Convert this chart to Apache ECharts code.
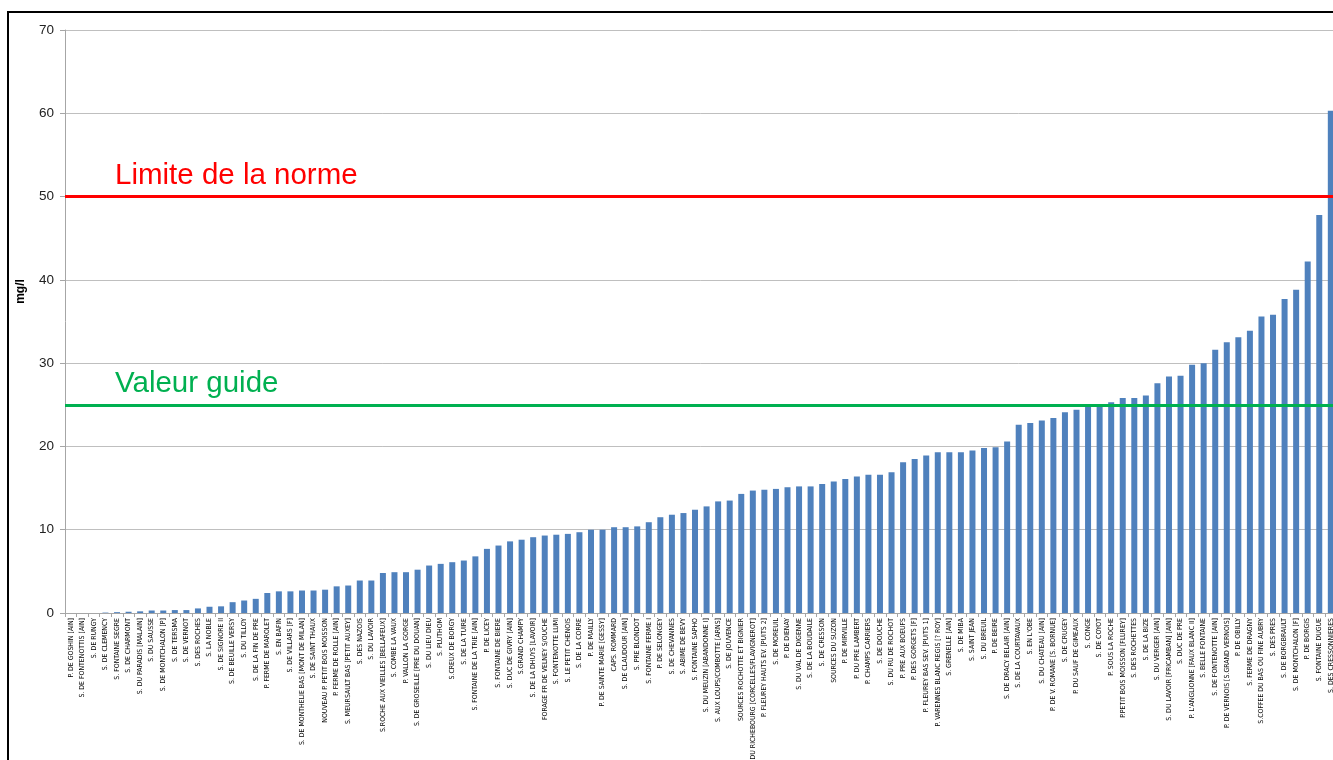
<!DOCTYPE html>
<html>
<head>
<meta charset="utf-8">
<script src="https://cdn.jsdelivr.net/npm/echarts@6/dist/echarts.min.js"></script>
<style>
html,body{margin:0;padding:0;background:#fff;overflow:hidden;width:1333px;height:760px;}
#frame{position:absolute;left:7px;top:11px;width:2000px;height:2000px;border-left:2px solid #000;border-top:2px solid #000;}
#chart{position:absolute;left:0;top:0;width:1340px;height:760px;}
</style>
</head>
<body>
<div id="chart"></div>
<div id="frame"></div>
<script>
const categories = [
"P. DE GOSHIN [AIN]","S. DE FONTENOTTIS [AIN]","S. DE RUNGY","S. DE CLEMENCY","S. FONTAINE SEGRE",
"S. DE CHARMONT","S. DU PARADIS [MALAIN]","S. DU SAUSSE","S. DE MONTCHALON [P]","S. DE TERSMA",
"S. DE VERNOT","S. DES ROCHES","S. LA NOBLE","S. DE SIGNORE II","S. DE BEUILLE VERSY",
"S. DU TILLOY","S. DE LA FIN DE PRE","P. FERME DE MAROLET","S. EN BAFIN","S. DE VILLARS [F]",
"S. DE MONTHELIE BAS [MONT DE MILAN]","S. DE SAINT THAUX","NOUVEAU P. PETIT BOIS MOISSON","P. FERME DE ROLLE [AIN]","S. MEURSAULT BAS [PETIT AUXEY]",
"S. DES NAZOIS","S. DU LAVOIR","S.ROCHE AUX VIEILLES [BELLAFEUX]","S. COMBE LA VAUX","P. VALLON LA GORGE",
"S. DE GROSEILLE [PRE DU DOUAN]","S. DU LIEU DIEU","S. PLUTHOM","S.CREUX DE BORGY","S. DE LA TUIRE",
"S. FONTAINE DE LA TRIE [AIN]","P. DE LICEY","S. FONTAINE DE BIERE","S. DUC DE GIVRY [AIN]","S.GRAND CHAMPY",
"S. DE LA DHUYS [LAVOIR]","FORAGE FR DE VELNEY S/OUCHE","S. FONTENOTTE LUMI","S. LE PETIT CHENOIS","S. DE LA CORRE",
"P. DE MAILLY","P. DE SAINTE MARIE [GESSY]","CAPS. ROMMARD","S. DE CLAUDOUR [AIN]","S. PRE BLONDOT",
"S. FONTAINE FERME I","P. DE SELONGEY","S. DE CHEVANNES","S. ABIME DE BEVY","S. FONTAINE SAPHO",
"S. DU MEUZIN [ABANDONNE I]","S. AUX LOUPS/COMBOTTE [ARNS]","S. DE JOUVENCE","SOURCES ROCHOTTE ET BIGNIER","S. DU RICHEBOURG [CORCELLES/FLAVIGNEROT]",
"P. FLEUREY HAUTS EV. [PUITS 2]","S. DE MOREUIL","P. DE DIENAY","S. DU VAL DE DIGENNE","S. DE LA BOUDAILE",
"S. DE CRESSON","SOURCES DU SUZON","P. DE MIRVILLE","P. DU PRE LAMBERT","P. CHAMPS CARRIERS",
"S. DE DOUCHE","S. DU RU DE ROCHOT","P. PRE AUX BOEUFS","P. DES GORGETS [F]","P. FLEUREY BAS SEV. [PUITS 1]",
"P. VARENNES BLANC REGIS [? ROY]","S. GRENELLE [AIN]","S. DE MIBA","S. SAINT JEAN","S. DU BREUIL",
"P. DE BEIRE","S. DE DRACY BELAIR [AIN]","S. DE LA COURTAVAUX","S. EN L'OBE","S. DU CHATEAU [AIN]",
"P. DE V. ROMANE [S. BORNUE]","S. DE CRUGEY","P. DU SAUF DE GIMEAUX","S. CONGE","S. DE COYOT",
"P. SOUS LA ROCHE","P.PETIT BOIS MOISSON [FLUREY]","S. DES ROCHETTES","S. DE LA BIZE","S. DU VERGER [AIN]",
"S. DU LAVOIR [FRICAMBAN] [AIN]","S. DUC DE PRE","P. L'ANGLIONNE [FAUX BLANC II]","S. BELLE FONTAINE","S. DE FONTENOTTE [AIN]",
"P. DE VERNOIS [S.GRAND VERNOIS]","P. DE OBILLY","S. FERME DE DRAGNY","S.COFFEE DU BAS OU FINE AUBRY","S. DES PRES",
"S. DE BORGBRAULT","S. DE MONTCHALON [F]","P. DE BORGIS","S. FONTAINE DUGUE","S. DES CRESSONNIERES"
];
const values = [
0,0,0,0.05,0.1,
0.15,0.2,0.3,0.3,0.35,
0.35,0.55,0.75,0.8,1.3,
1.5,1.7,2.4,2.6,2.6,
2.7,2.7,2.8,3.2,3.3,
3.9,3.9,4.8,4.9,4.9,
5.2,5.7,5.9,6.1,6.3,
6.8,7.7,8.1,8.6,8.8,
9.1,9.3,9.4,9.5,9.7,
10.0,10.0,10.3,10.3,10.4,
10.9,11.5,11.8,12.0,12.4,
12.8,13.4,13.5,14.3,14.7,
14.8,14.9,15.1,15.2,15.2,
15.5,15.8,16.1,16.4,16.6,
16.6,16.9,18.1,18.5,18.9,
19.3,19.3,19.3,19.5,19.8,
19.9,20.6,22.6,22.8,23.1,
23.4,24.1,24.4,25.0,25.0,
25.3,25.8,25.8,26.1,27.6,
28.4,28.5,29.8,30.0,31.6,
32.5,33.1,33.9,35.6,35.8,
37.7,38.8,42.2,47.8,60.3
];
const yTicks = [0,10,20,30,40,50,60,70];
const normLimit = 50;
const guideValue = 25;
const normLabel = "Limite de la norme";
const guideLabel = "Valeur guide";
const yName = "mg/l";

const chart = echarts.init(document.getElementById('chart'), null, {renderer:'canvas'});
chart.setOption({
  animation:false,
  backgroundColor:'#fff',
  grid:{left:65, top:30, width:1271.6, height:583, containLabel:false, outerBoundsMode:'none'},
  xAxis:{
    type:'category', data:categories, boundaryGap:true,
    axisLine:{lineStyle:{color:'#a6a6a6', width:1}},
    axisTick:{show:true, interval:0, length:4, lineStyle:{color:'#a6a6a6'}},
    axisLabel:{interval:0, rotate:90, fontSize:6.9, color:'#000', margin:5,
      fontFamily:'"Liberation Sans Narrow","DejaVu Sans Condensed","Liberation Sans",sans-serif'}
  },
  yAxis:{
    type:'value', min:yTicks[0], max:yTicks[yTicks.length-1], interval:10,
    name:yName, nameLocation:'middle', nameGap:38,
    nameTextStyle:{fontSize:12, fontWeight:'bold', color:'#000', fontFamily:'"Liberation Sans",sans-serif', padding:[0,0,0,60]},
    axisLine:{show:true, lineStyle:{color:'#a6a6a6'}},
    axisTick:{show:true, length:5, lineStyle:{color:'#a6a6a6'}},
    axisLabel:{fontSize:13.5, color:'#222', margin:11, fontFamily:'"Liberation Sans",sans-serif'},
    splitLine:{show:true, lineStyle:{color:'#bfbfbf', width:1}}
  },
  series:[{
    type:'bar', data:values, barWidth:6,
    itemStyle:{color:'#4f81bd'},
    markLine:{
      silent:true, symbol:['none','none'],
      data:[
        {yAxis:normLimit, lineStyle:{color:'#ff0000', width:3, type:'solid'},
         label:{show:true, formatter:normLabel, position:'insideStartTop', distance:[50,6], color:'#ff0000', fontSize:29.5, fontFamily:'"Liberation Sans",sans-serif'}},
        {yAxis:guideValue, lineStyle:{color:'#00b050', width:3, type:'solid'},
         label:{show:true, formatter:guideLabel, position:'insideStartTop', distance:[50,6], color:'#00b050', fontSize:29.5, fontFamily:'"Liberation Sans",sans-serif'}}
      ]
    }
  }]
});
</script>
</body>
</html>
